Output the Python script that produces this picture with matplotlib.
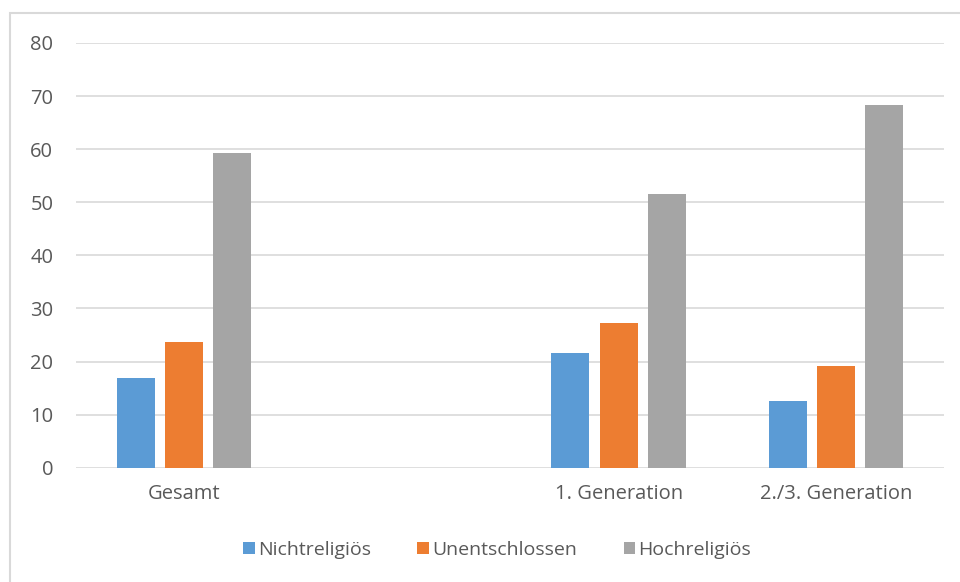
import numpy as np
import matplotlib.pyplot as plt
from matplotlib.patches import Rectangle

categories = ['Gesamt', '', '1. Generation', '2./3. Generation']
series = ['Nichtreligiös', 'Unentschlossen', 'Hochreligiös']
nichtreligioes = [16.9, np.nan, 21.6, 12.5]
unentschlossen = [23.6, np.nan, 27.2, 19.2]
hochreligioes = [59.3, np.nan, 51.6, 68.4]
colors = ['#5b9bd5', '#ed7d31', '#a5a5a5']

yticks = [0, 10, 20, 30, 40, 50, 60, 70, 80]

plt.rcParams['font.family'] = ['Open Sans', 'DejaVu Sans']

fig = plt.figure(figsize=(9.6, 5.82), dpi=100)
fig.patches.append(Rectangle((10 / 960, -0.1), 1.2, (582 - 12.5) / 582 + 0.1,
                             transform=fig.transFigure, fill=False,
                             edgecolor='#d9d9d9', linewidth=1.5))
ax = fig.add_axes([75.5 / 960, 114.3 / 582, 869 / 960, 424.7 / 582])

x = np.arange(len(categories))
width = 0.175
step = 0.222
values = [nichtreligioes, unentschlossen, hochreligioes]
for i, (name, vals, c) in enumerate(zip(series, values, colors)):
    ax.bar(x + (i - 1) * step, vals, width, color=c, label=name, zorder=3)

ax.set_xlim(-0.5, len(categories) - 0.5)
ax.set_ylim(0, 80)
ax.set_yticks(yticks)
ax.set_xticks(x)
ax.set_xticklabels(categories)
ax.yaxis.grid(True, color='#d9d9d9', linewidth=1.2, zorder=0)
for s in ax.spines.values():
    s.set_visible(False)
ax.tick_params(axis='both', length=0, colors='#595959')
ax.tick_params(axis='y', pad=16, labelsize=14.5)
ax.tick_params(axis='x', pad=12, labelsize=14.5)

ax.legend(loc='center', bbox_to_anchor=(497 / 960, 1 - 550 / 582),
          bbox_transform=fig.transFigure, ncol=3, frameon=False,
          handlelength=0.6, handleheight=0.6, handletextpad=0.15,
          columnspacing=2.4, fontsize=14, labelcolor='#595959')

fig.savefig('out.png', dpi=100)
